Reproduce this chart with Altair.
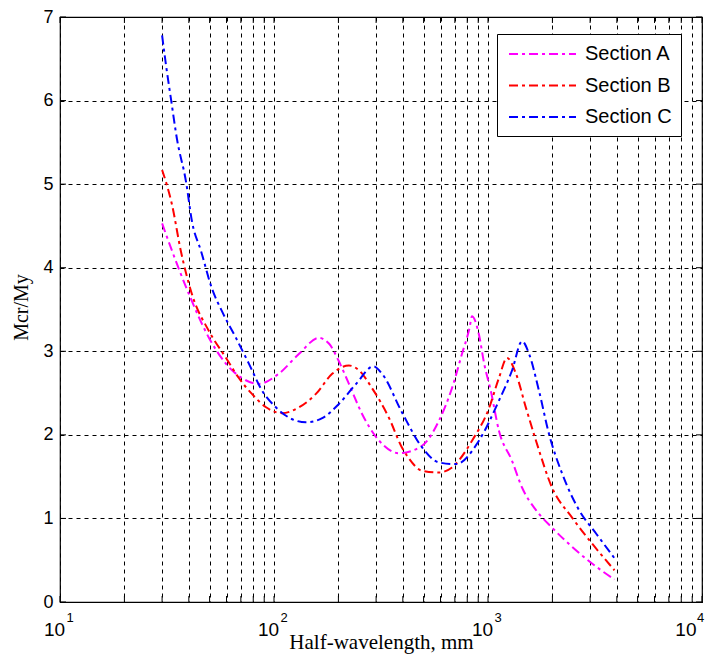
import altair as alt
import pandas as pd

# Section A (magenta)
a_x = [30, 33.4, 40.1, 49.7, 59.7, 70.8, 85, 105, 131, 162, 181, 201, 224, 258, 310,
       384, 492, 590, 679, 756, 820, 842, 907, 960, 1030, 1125, 1295, 1442, 1676, 1991,
       2471, 3063, 3900]
a_y = [4.53, 4.2, 3.68, 3.16, 2.85, 2.68, 2.61, 2.73, 2.97, 3.16, 3.09, 2.88, 2.61, 2.25, 1.93,
       1.78, 1.87, 2.17, 2.56, 2.97, 3.28, 3.42, 3.2, 2.85, 2.53, 2.05, 1.69, 1.37, 1.10, 0.89,
       0.66, 0.46, 0.27]

# Section B (red)
b_x = [30, 33.4, 36.7, 41.4, 49.7, 59.7, 68.5, 78.9, 91.8, 109, 131, 157, 187, 224, 250,
       287, 345, 396, 424, 492, 590, 679, 842, 1011, 1125, 1227, 1352, 1506, 1676, 1991,
       2471, 3063, 3900]
b_y = [5.17, 4.75, 4.2, 3.68, 3.24, 2.92, 2.68, 2.49, 2.33, 2.26, 2.33, 2.49, 2.73, 2.83, 2.77,
       2.56, 2.2, 1.85, 1.73, 1.57, 1.55, 1.61, 1.93, 2.32, 2.68, 2.92, 2.73, 2.32, 1.93, 1.37,
       1.01, 0.70, 0.38]

# Section C (blue)
c_x = [30, 31.3, 33.0, 35.2, 38.8, 41.4, 45.6, 51.3, 57.1, 66.4, 76.4, 87.9, 102, 121, 141,
       168, 201, 242, 292, 320, 396, 492, 590, 709, 907, 1125, 1295, 1442, 1555, 1730, 1928,
       2218, 2663, 3199, 3963]
c_y = [6.78, 6.42, 6.02, 5.54, 5.03, 4.55, 4.2, 3.75, 3.48, 3.16, 2.85, 2.53, 2.33, 2.19, 2.15,
       2.2, 2.37, 2.61, 2.82, 2.73, 2.27, 1.85, 1.67, 1.65, 1.93, 2.41, 2.77, 3.12, 2.97, 2.53, 2.01,
       1.54, 1.1, 0.82, 0.5]

series_names = ["Section A", "Section B", "Section C"]
series_colors = ["#FF00FF", "#FF0000", "#0000FF"]

x_grid = [10, 20, 30, 40, 50, 60, 70, 80, 90,
          100, 200, 300, 400, 500, 600, 700, 800, 900,
          1000, 2000, 3000, 4000, 5000, 6000, 7000, 8000, 9000, 10000]
x_major = [10, 100, 1000]
x_exps = ["1", "2", "3"]
x_last = [10000]
x_last_exp = ["4"]
y_ticks = [0, 1, 2, 3, 4, 5, 6, 7]

rows = []
for name, xs, ys in zip(series_names, [a_x, b_x, c_x], [a_y, b_y, c_y]):
    for i, (xv, yv) in enumerate(zip(xs, ys)):
        rows.append({"series": name, "x": xv, "y": yv, "order": i})
df = pd.DataFrame(rows)

W, H = 642, 585

xscale = alt.Scale(type="log", domain=[10, 10000], nice=False)
yscale = alt.Scale(domain=[0, 7], nice=False)

lines = alt.Chart(df).mark_line(
    strokeWidth=2, strokeDash=[9, 4, 3, 4], interpolate="monotone"
).encode(
    x=alt.X("x:Q", scale=xscale, axis=alt.Axis(
        values=x_grid,
        labelExpr="indexof([10,100,1000,10000], datum.value) >= 0 ? '10' : ''",
        grid=True, gridColor="black", gridDash=[4, 4], gridWidth=1, gridOpacity=1,
        ticks=False, tickSize=0, domain=False,
        labelFont="Liberation Sans", labelFontSize=19, labelColor="black",
        labelBaseline="alphabetic", labelPadding=33, labelOffset=-6, labelFlush=False,
        labelAlign={"condition": {"test": "datum.value == 10000", "value": "right"},
                    "value": "center"},
        labelOverlap=False,
        title="Half-wavelength, mm", titleFont="Liberation Serif", titleFontSize=21,
        titleFontWeight="normal", titleColor="black", titleBaseline="alphabetic",
        titleY=46, titleX=W / 2,
    )),
    y=alt.Y("y:Q", scale=yscale, axis=alt.Axis(
        values=y_ticks, format="d",
        grid=True, gridColor="black", gridDash=[4, 4], gridWidth=1, gridOpacity=1,
        ticks=False, tickSize=0, domain=False,
        labelFont="Liberation Sans", labelFontSize=18, labelColor="black",
        labelPadding=7, labelFlush=False,
        title="Mcr/My", titleFont="Liberation Serif", titleFontSize=20,
        titleFontWeight="normal", titleColor="black", titleAngle=270,
        titleAlign="center", titleBaseline="middle", titleX=-39, titleY=290,
    )),
    color=alt.Color("series:N", scale=alt.Scale(domain=series_names, range=series_colors),
                    legend=alt.Legend(
                        title=None, orient="none", legendX=437, legendY=17,
                        symbolType="M-0.8,0H5.9", symbolSize=400, symbolStrokeWidth=2,
                        symbolDash=[9, 4, 3, 4], symbolFillColor="transparent",
                        labelFont="Liberation Sans", labelFontSize=20, labelColor="black",
                        strokeColor="black", fillColor="white", padding=9,
                        rowPadding=10.5, labelOffset=57,
                    )),
    order="order:Q",
)

tick_df = pd.DataFrame({"x": x_grid})
ytick_df = pd.DataFrame({"y": y_ticks})

xt_bottom = alt.Chart(tick_df).mark_rule(color="black", strokeWidth=1).encode(
    x=alt.X("x:Q", scale=xscale), y=alt.value(H), y2=alt.value(H - 6))
xt_top = alt.Chart(tick_df).mark_rule(color="black", strokeWidth=1).encode(
    x=alt.X("x:Q", scale=xscale), y=alt.value(0), y2=alt.value(6))
yt_left = alt.Chart(ytick_df).mark_rule(color="black", strokeWidth=1).encode(
    y=alt.Y("y:Q", scale=yscale), x=alt.value(0), x2=alt.value(6))
yt_right = alt.Chart(ytick_df).mark_rule(color="black", strokeWidth=1).encode(
    y=alt.Y("y:Q", scale=yscale), x=alt.value(W), x2=alt.value(W - 6))

sup_df = pd.DataFrame({"x": x_major, "t": x_exps})
sups = alt.Chart(sup_df).mark_text(
    font="Liberation Sans", fontSize=13, color="black", align="center",
    baseline="alphabetic", dx=10
).encode(x=alt.X("x:Q", scale=xscale), y=alt.value(H + 20), text="t:N")

sup_last_df = pd.DataFrame({"x": x_last, "t": x_last_exp})
sup_last = alt.Chart(sup_last_df).mark_text(
    font="Liberation Sans", fontSize=13, color="black", align="center",
    baseline="alphabetic", dx=-1.5
).encode(x=alt.X("x:Q", scale=xscale), y=alt.value(H + 20), text="t:N")

chart = alt.layer(lines, xt_bottom, xt_top, yt_left, yt_right, sups, sup_last).properties(
    width=W, height=H,
    autosize=alt.AutoSizeParams(type="none"),
    padding={"left": 52, "top": 9, "right": 8, "bottom": 52},
    background="white",
).configure_view(stroke="black", strokeWidth=1.2)

chart.save("out.html", embed_options={"renderer": "svg", "actions": False})
